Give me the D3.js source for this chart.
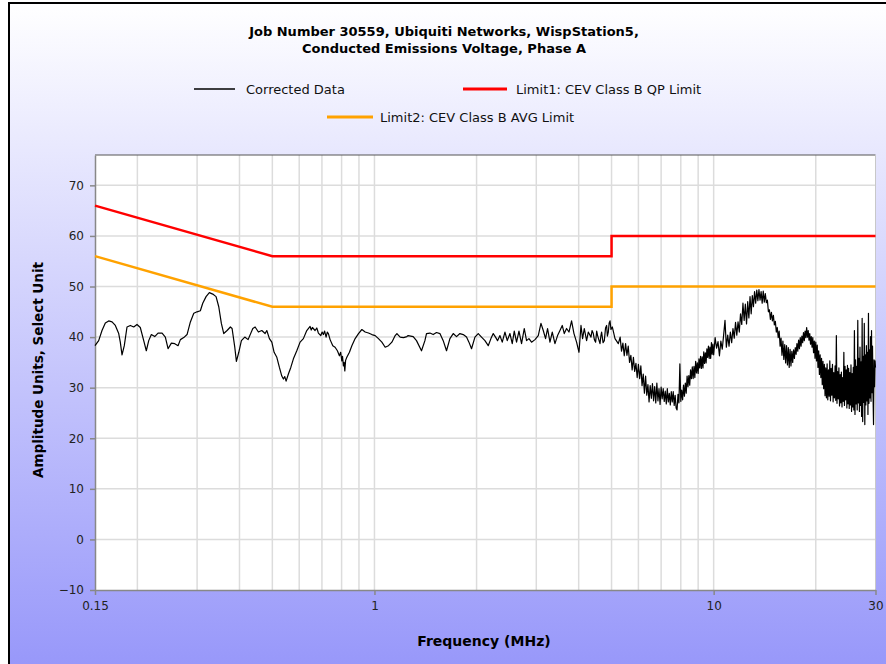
<!DOCTYPE html>
<html>
<head>
<meta charset="utf-8">
<script src="https://cdn.jsdelivr.net/npm/d3@7"></script>
<style>
  body { margin: 0; background: #fff; }
  svg { display: block; }
</style>
</head>
<body>
<svg id="chart" width="886" height="664"></svg>
<script>
// title + legend text
var titleLines = ["Job Number 30559, Ubiquiti Networks, WispStation5,",
                  "Conducted Emissions Voltage, Phase A"];
var seriesNames = ["Corrected Data", "Limit1: CEV Class B QP Limit", "Limit2: CEV Class B AVG Limit"];

// limit lines (MHz, dBuV)
var limitFreq = [0.15, 0.5, 5, 5, 30];
var qpLimit   = [66, 56, 56, 60, 60];
var avgLimit  = [56, 46, 46, 50, 50];

// axis ticks
var xTicks = [0.15, 1, 10, 30];
var xGrid  = [0.2, 0.3, 0.4, 0.5, 0.6, 0.7, 0.8, 0.9, 1, 2, 3, 4, 5, 6, 7, 8, 9, 10, 20];
var yTicks = [-10, 0, 10, 20, 30, 40, 50, 60, 70];

// corrected data trace, [MHz, amplitude]
var correctedData = [
  [0.150,38.3],[0.1538,39.3],[0.1573,41.3],[0.1609,42.8],[0.1646,43.2],[0.1684,43.0],[0.1722,42.3],
  [0.1762,40.7],[0.1781,39.0],[0.1802,36.5],[0.1830,38.3],[0.1864,42.0],[0.1907,42.3],[0.1951,42.0],
  [0.1995,42.5],[0.2040,41.9],[0.2088,39.3],[0.2125,37.3],[0.2160,39.3],[0.2199,40.5],[0.2250,40.1],
  [0.2301,40.8],[0.2365,40.8],[0.2418,40.0],[0.2463,37.7],[0.2519,38.8],[0.2578,38.7],[0.2636,38.3],
  [0.2678,39.5],[0.2740,39.9],[0.2802,40.5],[0.2866,43.0],[0.2933,44.7],[0.2999,45.0],[0.3067,45.2],
  [0.3117,46.7],[0.3188,48.0],[0.3260,48.8],[0.3336,48.5],[0.3412,48.0],[0.3475,46.0],[0.3537,42.7],
  [0.3595,40.7],[0.3677,41.3],[0.3760,42.0],[0.3804,41.7],[0.3874,38.0],[0.3917,35.2],[0.3981,37.0],
  [0.4052,39.3],[0.4146,40.0],[0.4240,39.5],[0.4379,41.7],[0.4448,42.0],[0.4548,41.0],[0.4654,41.3],
  [0.4760,40.7],[0.4815,41.3],[0.4901,39.7],[0.4982,39.0],[0.5060,37.0],[0.5154,36.0],[0.5245,34.0],
  [0.5331,32.3],[0.5390,31.7],[0.5440,32.2],[0.5489,31.3],[0.5575,32.7],[0.5667,34.0],[0.5768,35.7],
  [0.5902,37.3],[0.6036,39.0],[0.6172,39.7],[0.6316,41.3],[0.6459,42.1],[0.6510,41.4],[0.6561,41.9],
  [0.6682,41.3],[0.6760,41.8],[0.6834,40.8],[0.6946,40.3],[0.7010,41.0],[0.7070,40.5],[0.7130,41.2],
  [0.7201,40.0],[0.7260,41.0],[0.7314,40.7],[0.7399,39.5],[0.7536,38.3],[0.7655,38.0],[0.7775,37.3],
  [0.7882,36.3],[0.7950,37.0],[0.8011,35.3],[0.8050,36.2],[0.8099,34.3],[0.8138,35.0],[0.8177,33.3],
  [0.8220,35.4],[0.8289,36.0],[0.8437,37.0],[0.8577,38.3],[0.8771,39.7],[0.8972,40.7],[0.9180,41.5],
  [0.9388,41.0],[0.9601,40.8],[0.9825,40.5],[1.0048,40.3],[1.0275,39.7],[1.0515,39.0],[1.0754,38.0],
  [1.0997,38.3],[1.1255,39.0],[1.1510,40.3],[1.1644,40.7],[1.1907,40.0],[1.2178,39.9],[1.2462,40.1],
  [1.2571,40.3],[1.3007,40.1],[1.3302,39.3],[1.3761,37.3],[1.4083,39.3],[1.4237,40.7],[1.4570,40.8],
  [1.4900,40.5],[1.5238,40.9],[1.5594,40.7],[1.5947,39.3],[1.6309,37.3],[1.6689,39.7],[1.7068,40.7],
  [1.7454,40.1],[1.7862,40.7],[1.8268,40.5],[1.8682,40.0],[1.8989,39.0],[1.9328,37.7],[1.9779,40.0],
  [2.0227,40.7],[2.0685,40.0],[2.1168,39.3],[2.1648,38.3],[2.2048,39.7],[2.2395,40.7],[2.2748,40.0],
  [2.3059,39.3],[2.3438,40.3],[2.3808,39.0],[2.4248,41.0],[2.4630,39.3],[2.5085,40.7],[2.5481,38.7],
  [2.5830,41.2],[2.6237,39.0],[2.6668,41.2],[2.7143,38.7],[2.7645,41.7],[2.8080,39.3],[2.8539,39.7],
  [2.9049,39.0],[2.9727,39.5],[3.0401,40.3],[3.0964,42.7],[3.1452,41.3],[3.1946,39.7],[3.2383,41.7],
  [3.2916,39.0],[3.3432,41.0],[3.4050,38.7],[3.4657,40.3],[3.5227,41.3],[3.5781,42.3],[3.6271,40.7],
  [3.6843,41.7],[3.7449,41.0],[3.8116,43.2],[3.8743,40.7],[3.9434,39.0],[4.0083,37.0],[4.0631,42.3],
  [4.1075,39.7],[4.1552,41.7],[4.2207,39.3],[4.2697,41.0],[4.3488,40.0],[4.3800,41.3],[4.4173,40.7],
  [4.4500,39.5],[4.4870,39.0],[4.5200,41.2],[4.5484,40.3],[4.5800,39.6],[4.6232,38.7],[4.6500,40.2],
  [4.6737,41.0],[4.7200,38.9],[4.7602,39.3],[4.8000,41.8],[4.8353,42.3],[4.8600,40.2],[4.8914,41.0],
  [4.9200,42.8],[4.9482,43.2],[4.9800,41.5],[5.0256,42.0],[5.1186,39.7],[5.2346,38.7],
  [5.30,40.0],[5.35,37.2],[5.40,38.8],[5.45,36.3],[5.50,38.7],[5.55,36.4],[5.60,38.2],[5.65,35.0],
  [5.70,36.4],[5.75,33.5],[5.80,36.0],[5.85,33.2],[5.90,34.8],[5.95,32.0],[6.00,34.6],[6.05,31.8],
  [6.10,34.3],[6.15,30.4],[6.20,32.7],[6.25,28.9],[6.30,32.3],[6.35,28.5],[6.40,30.6],[6.45,27.2],
  [6.50,30.4],[6.55,27.9],[6.60,30.8],[6.65,27.4],[6.70,30.2],[6.75,27.0],[6.80,30.9],[6.85,27.4],
  [6.90,29.8],[6.95,26.7],[7.00,30.1],[7.05,27.8],[7.10,29.8],[7.15,27.3],[7.20,29.3],[7.25,26.8],
  [7.30,29.8],[7.35,27.2],[7.40,28.9],[7.45,26.6],[7.50,29.2],[7.55,27.2],[7.60,29.2],[7.65,26.5],
  [7.70,28.5],[7.75,26.0],[7.80,25.6],[7.85,28.7],[7.90,27.0],[7.95,34.7],[8.00,27.3],[8.05,29.5],
  [8.10,27.6],[8.15,30.5],[8.20,28.3],[8.25,30.9],[8.30,28.9],[8.35,32.3],[8.40,30.2],[8.45,32.4],
  [8.50,30.5],[8.55,33.5],[8.60,31.8],[8.65,34.1],[8.70,31.8],[8.75,34.2],[8.80,32.0],[8.85,35.2],
  [8.90,32.9],[8.95,34.9],[9.00,32.8],[9.05,35.7],[9.10,33.9],[9.15,36.2],[9.20,33.8],[9.25,36.1],
  [9.30,33.9],[9.35,37.1],[9.40,34.8],[9.45,36.9],[9.50,34.9],[9.55,37.7],[9.60,36.0],[9.65,38.2],
  [9.70,35.8],[9.75,38.0],[9.80,35.8],[9.85,38.9],[9.90,36.6],[9.95,38.6],[10.0,36.5],
  [10.1,39.9],[10.2,37.8],[10.3,39.1],[10.4,36.3],[10.5,39.2],[10.6,37.6],[10.7,40.4],[10.8,43.3],
  [10.9,38.0],[11.0,40.4],[11.1,38.2],[11.2,41.0],[11.3,38.9],[11.4,41.7],[11.5,39.8],[11.6,42.9],
  [11.7,40.4],[11.8,43.0],[11.9,41.0],[12.0,44.6],[12.1,42.5],[12.2,46.7],[12.3,43.3],[12.4,46.5],
  [12.5,42.6],[12.6,47.0],[12.7,43.8],[12.8,48.0],[12.9,44.6],[13.0,48.2],[13.1,46.0],[13.2,49.0],
  [13.3,46.7],[13.4,49.3],[13.5,47.2],[13.6,49.4],[13.7,47.3],[13.8,49.0],[13.9,46.7],[14.0,49.1],
  [14.1,46.9],[14.2,48.6],[14.3,46.8],[14.4,47.3],[14.5,45.0],[14.6,45.4],[14.7,43.5],[14.8,44.9],
  [14.9,43.2],[15.0,44.3],[15.1,42.4],[15.2,43.1],[15.3,41.0],[15.4,41.9],[15.5,39.9],[15.6,41.2],
  [15.7,38.2],[15.8,39.8],[15.9,36.4],[16.0,39.2],[16.1,35.6],[16.2,38.5],[16.3,34.9],[16.4,38.3],
  [16.5,34.5],[16.6,37.9],[16.7,34.0],[16.8,37.6],[16.9,34.3],[17.0,37.2],[17.1,35.0],[17.2,37.5],
  [17.3,35.8],[17.4,37.9],[17.5,36.6],[17.6,38.7],[17.7,37.2],[17.8,39.4],[17.9,37.7],[18.0,39.9],
  [18.1,38.2],[18.2,40.2],[18.3,38.9],[18.4,40.9],[18.5,39.3],[18.6,41.2],[18.7,39.9],[18.8,41.9],
  [18.9,40.0],[19.0,41.3],[19.1,39.4],[19.2,40.7],[19.3,38.6],[19.4,40.1],[19.5,38.0],[19.6,39.9],
  [19.7,36.9],[19.8,39.2],[19.9,35.8],[20.0,39.0],
  [20.1,35.3],[20.2,38.4],[20.3,34.0],[20.4,37.3],[20.5,32.6],[20.6,36.5],[20.7,32.0],[20.8,35.8],
  [20.9,30.6],[21.0,35.2],[21.1,29.8],[21.2,34.6],[21.3,28.4],[21.4,33.9],[21.5,28.0],[21.6,34.7],
  [21.7,27.6],[21.8,33.5],[21.9,28.3],[22.0,35.3],[22.1,27.4],[22.2,33.8],[22.3,28.5],[22.4,34.6],
  [22.5,27.2],[22.6,33.0],[22.7,28.0],[22.8,34.3],[22.9,27.5],[23.0,40.3],[23.1,26.9],[23.2,33.2],
  [23.3,27.8],[23.4,33.9],[23.5,26.4],[23.6,32.6],[23.7,27.0],[23.8,33.1],[23.9,26.2],[24.0,32.0],
  [24.1,27.3],[24.2,37.0],[24.3,26.5],[24.4,34.2],[24.5,27.6],[24.6,33.5],[24.7,26.0],[24.8,34.4],
  [24.9,26.8],[25.0,33.8],[25.1,25.9],[25.2,33.0],[25.3,26.6],[25.4,34.5],[25.5,25.3],[25.6,32.8],
  [25.7,26.2],[25.8,34.0],[25.9,25.6],[26.0,41.3],[26.1,24.7],[26.2,35.5],[26.3,26.8],[26.4,34.2],
  [26.5,25.6],[26.6,43.3],[26.7,27.0],[26.8,35.8],[26.9,25.3],[27.0,38.0],[27.1,26.5],[27.2,35.1],
  [27.3,24.3],[27.4,43.7],[27.5,23.3],[27.6,36.2],[27.7,27.1],[27.8,42.7],[27.9,22.7],[28.0,36.5],
  [28.1,26.6],[28.2,38.3],[28.3,27.4],[28.4,37.0],[28.5,24.7],[28.6,44.7],[28.7,26.9],[28.8,37.5],
  [28.9,28.0],[29.0,40.1],[29.1,27.3],[29.2,41.3],[29.3,29.0],[29.4,38.2],[29.5,28.6],[29.6,22.7],
  [29.7,35.5],[29.8,30.2],[29.9,35.3],[30.0,34.0]
];

var svg = d3.select("#chart");

// background gradient
var grad = svg.append("defs").append("linearGradient")
    .attr("id", "bg").attr("x1", 0).attr("y1", 0).attr("x2", 0).attr("y2", 1);
grad.append("stop").attr("offset", "0%").attr("stop-color", "#ffffff");
grad.append("stop").attr("offset", "100%").attr("stop-color", "#9898fa");

svg.append("rect")
    .attr("x", 9).attr("y", 3).attr("width", 877).attr("height", 661)
    .attr("fill", "url(#bg)");
svg.append("line").attr("x1", 8).attr("x2", 886).attr("y1", 3).attr("y2", 3)
    .attr("stroke", "#000").attr("stroke-width", 2);
svg.append("line").attr("x1", 9).attr("x2", 9).attr("y1", 2).attr("y2", 664)
    .attr("stroke", "#000").attr("stroke-width", 2);

var x = d3.scaleLog().domain([0.15, 30]).range([95, 875.5]);
var y = d3.scaleLinear().domain([-10, 76]).range([590, 155]);

// plot area
svg.append("rect")
    .attr("x", x(0.15)).attr("y", y(76))
    .attr("width", x(30) - x(0.15)).attr("height", y(-10) - y(76))
    .attr("fill", "#fff");

// grid
svg.append("g").selectAll("line")
    .data(xGrid).join("line")
    .attr("x1", d => x(d)).attr("x2", d => x(d))
    .attr("y1", y(76)).attr("y2", y(-10))
    .attr("stroke", "#dcdcdc").attr("stroke-width", 1.5);
svg.append("g").selectAll("line")
    .data(yTicks.slice(1)).join("line")
    .attr("x1", x(0.15)).attr("x2", x(30))
    .attr("y1", d => y(d)).attr("y2", d => y(d))
    .attr("stroke", "#dcdcdc").attr("stroke-width", 1.5);

// frame top / right
svg.append("line").attr("x1", x(0.15)).attr("x2", x(30)).attr("y1", y(76)).attr("y2", y(76))
    .attr("stroke", "#555").attr("stroke-width", 1);
svg.append("line").attr("x1", x(30)).attr("x2", x(30)).attr("y1", y(76)).attr("y2", y(-10))
    .attr("stroke", "#c8c8c8").attr("stroke-width", 1);

// axes
var yAxis = svg.append("g")
    .attr("transform", "translate(" + x(0.15) + ",0)")
    .call(d3.axisLeft(y).tickValues(yTicks).tickSize(5).tickSizeOuter(0).tickPadding(6).tickFormat(d3.format("d")));
var xAxis = svg.append("g")
    .attr("transform", "translate(0," + y(-10) + ")")
    .call(d3.axisBottom(x).tickValues(xTicks).tickSize(5).tickSizeOuter(0).tickPadding(6).tickFormat(d => String(d)));
[yAxis, xAxis].forEach(function(ax) {
  ax.select(".domain").attr("stroke", "#888").attr("stroke-width", 1.5);
  ax.selectAll(".tick line").attr("stroke", "#888").attr("stroke-width", 1.5);
  ax.selectAll(".tick text").attr("fill", "#222")
    .style("font-family", "DejaVu Sans").style("font-size", "12px");
});

// series
var line = d3.line().x(d => x(d[0])).y(d => y(d[1]));
var qpData = limitFreq.map((f, i) => [f, qpLimit[i]]);
var avgData = limitFreq.map((f, i) => [f, avgLimit[i]]);

svg.append("path").datum(qpData).attr("d", line)
    .attr("fill", "none").attr("stroke", "#ff0000").attr("stroke-width", 2.5);
svg.append("path").datum(avgData).attr("d", line)
    .attr("fill", "none").attr("stroke", "#ffa200").attr("stroke-width", 2.5);
svg.append("path").datum(correctedData).attr("d", line)
    .attr("fill", "none").attr("stroke", "#000").attr("stroke-width", 1.2)
    .attr("stroke-linejoin", "round");

// title
svg.append("g").selectAll("text")
    .data(titleLines).join("text")
    .attr("x", 444).attr("y", (d, i) => 36 + i * 17)
    .attr("text-anchor", "middle")
    .style("font-family", "DejaVu Sans").style("font-weight", "bold").style("font-size", "13px")
    .attr("fill", "#000")
    .text(d => d);

// legend
var legend = [
  {name: seriesNames[0], color: "#000", w: 1.3, x1: 194, x2: 235, y: 89, tx: 246},
  {name: seriesNames[1], color: "#ff0000", w: 3, x1: 463, x2: 507, y: 89, tx: 516},
  {name: seriesNames[2], color: "#ffa200", w: 3, x1: 327, x2: 373, y: 117, tx: 380}
];
var lg = svg.append("g").selectAll("g").data(legend).join("g");
lg.append("line")
    .attr("x1", d => d.x1).attr("x2", d => d.x2).attr("y1", d => d.y).attr("y2", d => d.y)
    .attr("stroke", d => d.color).attr("stroke-width", d => d.w);
lg.append("text")
    .attr("x", d => d.tx).attr("y", d => d.y + 5)
    .style("font-family", "DejaVu Sans").style("font-size", "13px").attr("fill", "#111")
    .text(d => d.name);

// axis titles
svg.append("text")
    .attr("x", 484).attr("y", 646).attr("text-anchor", "middle")
    .style("font-family", "DejaVu Sans").style("font-weight", "bold").style("font-size", "14px")
    .text("Frequency (MHz)");
svg.append("text")
    .attr("transform", "translate(43,370) rotate(-90)").attr("text-anchor", "middle")
    .style("font-family", "DejaVu Sans").style("font-weight", "bold").style("font-size", "13.5px")
    .text("Amplitude Units, Select Unit");
</script>
</body>
</html>
